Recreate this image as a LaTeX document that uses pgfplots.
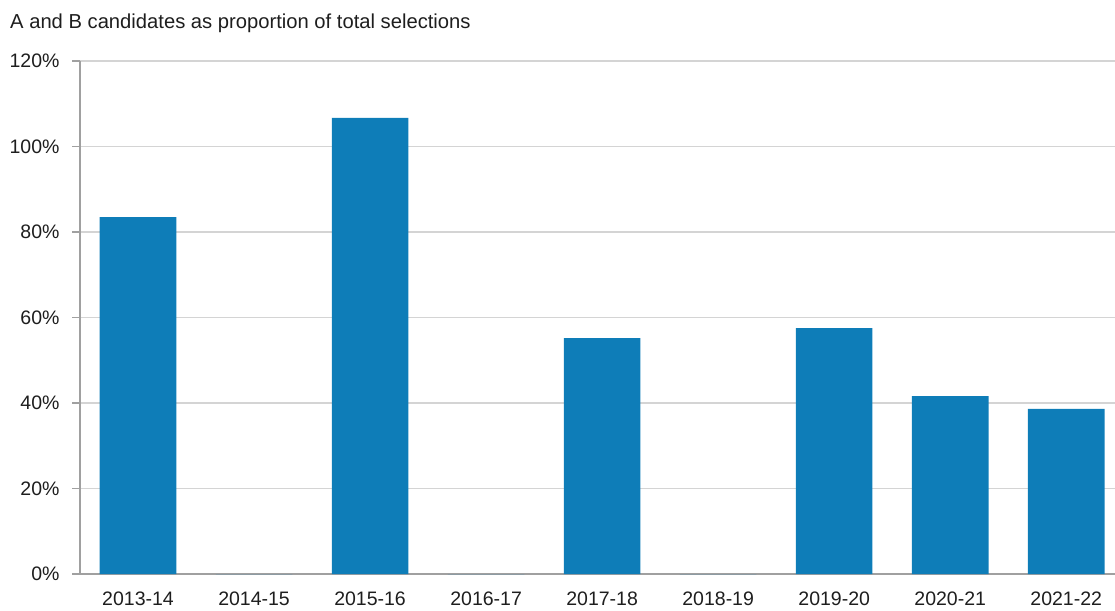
\documentclass[border=0pt]{standalone}
\usepackage{pgfplots}
\pgfplotsset{compat=1.18}
\usepackage{fontspec}
\setmainfont{Liberation Sans}
\definecolor{barblue}{RGB}{14,125,184}
\definecolor{axisgray}{RGB}{160,160,160}
\definecolor{gridgray}{RGB}{212,212,212}
\definecolor{txt}{RGB}{30,30,30}
\begin{document}
\begin{tikzpicture}[x=1pt,y=1pt]
\path[use as bounding box] (0,0) rectangle (1115,610);
\node[anchor=west,text=txt,font=\fontsize{20.2}{23}\selectfont,inner sep=0pt] at (10,587) {A and B candidates as proportion of total selections};
\begin{axis}[
  at={(80pt,36pt)}, anchor=south west,
  scale only axis, width=1035pt, height=513pt,
  xmin=-0.5, xmax=8.42, ymin=0, ymax=120,
  axis lines=left, axis line style={axisgray,line width=1.3pt,-},
  ymajorgrids, grid style={gridgray,line width=1.2pt},
  ytick={0,20,...,120},
  yticklabel={\pgfmathprintnumber{\tick}\%},
  /pgf/number format/assume math mode=true,
  xtick={0,...,8},
  xticklabels={2013-14,2014-15,2015-16,2016-17,2017-18,2018-19,2019-20,2020-21,2021-22},
  x tick style={draw=none},
  extra x ticks={0.5,1.5,...,7.5},
  extra x tick labels={},
  extra x tick style={major tick length=8pt, tick align=outside, tick style={axisgray,line width=1.3pt}, grid=none},
  y tick style={axisgray,line width=1.3pt},
  tick align=outside, major tick length=8pt,
  ticklabel style={text=txt,font=\fontsize{19.5}{22}\selectfont},
  yticklabel style={xshift=-9pt},
  xticklabel style={yshift=-6pt},
  clip=false,
]
\addplot[ybar, bar width=0.66, fill=barblue, draw=none] coordinates {
(0,83.5) (1,0) (2,106.7) (3,0) (4,55.2) (5,0) (6,57.5) (7,41.6) (8,38.6)};
\end{axis}
\end{tikzpicture}
\end{document}
